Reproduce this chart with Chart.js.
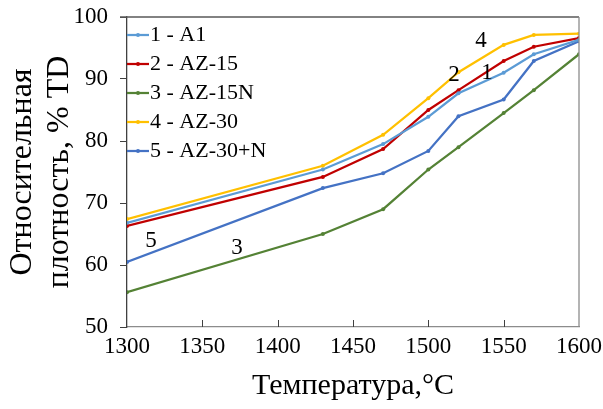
<!DOCTYPE html>
<html>
<head>
<meta charset="utf-8">
<script src="https://cdn.jsdelivr.net/npm/chart.js@4"></script>
<style>
  html, body { margin: 0; padding: 0; background: #fff; }
  #wrap { width: 603px; height: 409px; }
</style>
</head>
<body>
<div id="wrap"><canvas id="myChart" width="603" height="409"></canvas></div>
<script>
var temps = [1300, 1430, 1470, 1500, 1520, 1550, 1570, 1600];

var a1     = [66.8, 75.4, 79.5, 83.9, 87.7, 91.0, 94.0, 96.3];
var az15   = [66.3, 74.2, 78.7, 85.0, 88.2, 92.9, 95.2, 96.6];
var az15n  = [55.6, 65.0, 69.0, 75.4, 79.0, 84.5, 88.2, 94.0];
var az30   = [67.4, 76.0, 81.0, 86.9, 91.1, 95.5, 97.1, 97.3];
var az30n  = [60.5, 72.4, 74.8, 78.4, 84.0, 86.7, 92.9, 96.1];

var names = ["1 - A1", "2 - AZ-15", "3 - AZ-15N", "4 - AZ-30", "5 - AZ-30+N"];
var colors = ["#5b9bd5", "#c00000", "#548235", "#ffc000", "#4472c4"];

// curve numbers written on the plot
var curveText = ["4", "2", "1", "5", "3"];
var curveX = [1535, 1517, 1539, 1316, 1373];
var curveY = [96.1, 90.6, 91.0, 63.9, 62.7];

var series = [a1, az15, az15n, az30, az30n];

function points(vals) {
    return vals.map(function (v, i) { return { x: temps[i], y: v }; });
}

var serif = "'Liberation Serif', 'Times New Roman', serif";

var extras = {
    id: "extras",
    afterDraw: function (chart) {
        var c = chart.ctx;
        var a = chart.chartArea;
        var xs = chart.scales.x;
        var ys = chart.scales.y;
        c.save();

        // top and right frame
        c.lineWidth = 1.3;
        c.strokeStyle = "#595959";
        c.beginPath();
        c.moveTo(a.left - 7, a.top);
        c.lineTo(a.right, a.top);
        c.stroke();
        c.strokeStyle = "#8c8c8c";
        c.beginPath();
        c.moveTo(a.right, a.top);
        c.lineTo(a.right, a.bottom);
        c.stroke();

        // x ticks pointing inward
        c.strokeStyle = "#404040";
        c.lineWidth = 1;
        for (var t = 1350; t < 1600; t += 50) {
            var px = Math.round(xs.getPixelForValue(t)) + 0.5;
            c.beginPath();
            c.moveTo(px, a.bottom);
            c.lineTo(px, a.bottom - 7);
            c.stroke();
        }

        // curve numbers
        c.fillStyle = "#000";
        c.font = "23px " + serif;
        c.textAlign = "center";
        c.textBaseline = "middle";
        for (var i = 0; i < curveText.length; i++) {
            c.fillText(curveText[i], xs.getPixelForValue(curveX[i]), ys.getPixelForValue(curveY[i]));
        }

        // legend
        c.font = "22px " + serif;
        c.textAlign = "left";
        for (var k = 0; k < names.length; k++) {
            var ly = a.top + 18 + k * 29;
            c.strokeStyle = colors[k];
            c.lineWidth = 2.25;
            c.beginPath();
            c.moveTo(a.left, ly);
            c.lineTo(a.left + 22, ly);
            c.stroke();
            c.fillStyle = colors[k];
            c.beginPath();
            c.arc(a.left + 11, ly, 2, 0, Math.PI * 2);
            c.fill();
            c.fillStyle = "#000";
            c.fillText(names[k], a.left + 23, ly);
        }
        c.restore();
    }
};

var ctx = document.getElementById("myChart");

var myChart = new Chart(ctx, {
    type: "line",
    data: {
        datasets: series.map(function (s, i) {
            return {
                label: names[i],
                data: points(s),
                borderColor: colors[i],
                backgroundColor: colors[i],
                borderWidth: 2.25,
                pointRadius: 2,
                pointBorderWidth: 0,
                fill: false,
                lineTension: 0
            };
        })
    },
    options: {
        responsive: false,
        animation: false,
        layout: { padding: { left: 0, top: 17, right: 24, bottom: 0 } },
        plugins: {
            legend: { display: false },
            tooltip: { enabled: false }
        },
        scales: {
            x: {
                type: "linear",
                min: 1300,
                max: 1600,
                afterFit: function (s) {
                    s.height = 82;
                    s.paddingLeft = 0;
                    s.paddingRight = 0;
                },
                ticks: {
                    stepSize: 50,
                    padding: 6,
                    color: "#000",
                    callback: function (v) { return String(v); },
                    font: { family: serif, size: 23, lineHeight: 1.2 }
                },
                grid: { display: true, drawOnChartArea: false, drawTicks: false },
                border: { display: true, color: "#8c8c8c", width: 1.3 },
                title: {
                    display: true,
                    text: "Температура,°C",
                    color: "#000",
                    padding: { top: 0, bottom: 5 },
                    font: { family: serif, size: 30, lineHeight: 1.2 }
                }
            },
            y: {
                min: 50,
                max: 100,
                afterFit: function (s) {
                    s.width = 127;
                    s.paddingTop = 0;
                    s.paddingBottom = 0;
                },
                ticks: {
                    stepSize: 10,
                    padding: 12,
                    color: "#000",
                    font: { family: serif, size: 23, lineHeight: 1.2 }
                },
                grid: {
                    display: true,
                    drawOnChartArea: false,
                    drawTicks: true,
                    tickLength: 7,
                    tickColor: "#404040"
                },
                border: { display: true, color: "#404040", width: 1.3 },
                title: {
                    display: true,
                    text: ["Относительная", "плотность, % TD"],
                    color: "#000",
                    padding: { top: 4, bottom: 0 },
                    font: { family: serif, size: 32, lineHeight: 1.15 }
                }
            }
        }
    },
    plugins: [extras]
});
</script>
</body>
</html>
